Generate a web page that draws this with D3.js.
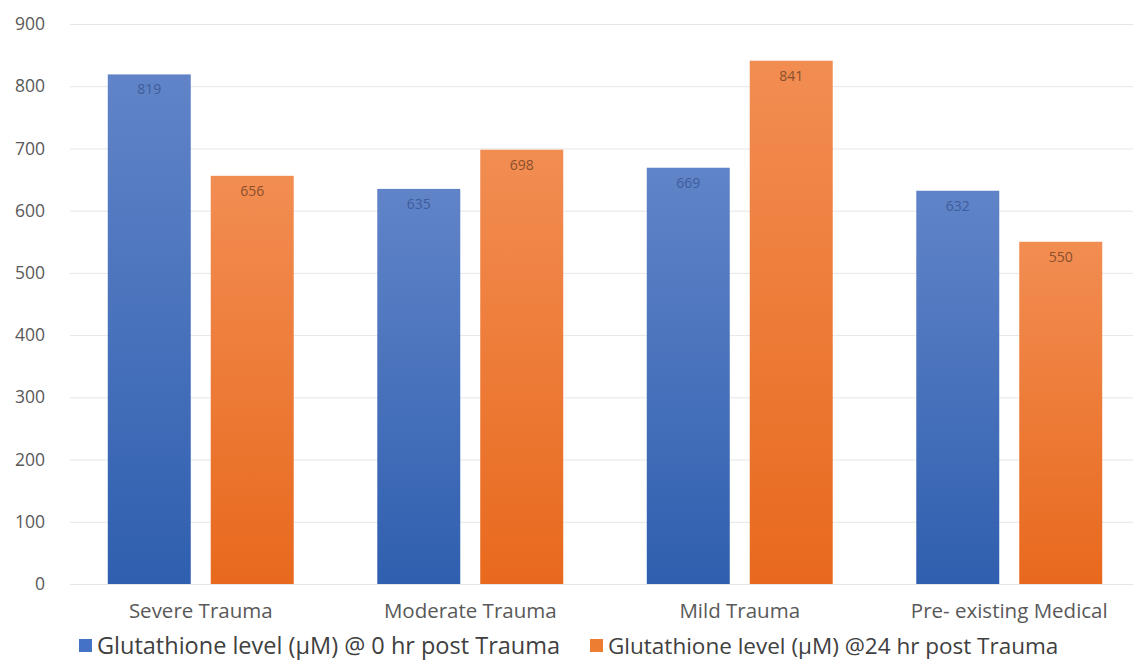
<!DOCTYPE html>
<html>
<head>
<meta charset="utf-8">
<script src="https://cdn.jsdelivr.net/npm/d3@7"></script>
<style>
  body { margin: 0; background: #fff; }
  svg { font-family: "Open Sans", "Noto Sans", sans-serif; }
</style>
</head>
<body>
<svg id="chart" width="1133" height="666"></svg>
<script>
// chart data
const categories = ["Severe Trauma", "Moderate Trauma", "Mild Trauma", "Pre- existing Medical"];
const seriesNames = ["Glutathione level (\u00b5M) @ 0 hr post Trauma", "Glutathione level (\u00b5M) @24 hr post Trauma"];
const hr0 = [819, 635, 669, 632];
const hr24 = [656, 698, 841, 550];
const yTicks = [0, 100, 200, 300, 400, 500, 600, 700, 800, 900];

const svg = d3.select("#chart");
const width = +svg.attr("width");

const x = d3.scaleBand()
    .domain(categories)
    .range([66, 1144])
    .paddingInner(0.31)
    .paddingOuter(0.155);

const x1 = d3.scaleBand()
    .domain([0, 1])
    .range([0, x.bandwidth()])
    .paddingInner(0.194);

const y = d3.scaleLinear()
    .domain([0, 900])
    .range([584, 24]);

// Gradients
const defs = svg.append("defs");
const grads = [
    { id: "gBlue", top: "#6184c8", bottom: "#2f5faf" },
    { id: "gOrange", top: "#f28d52", bottom: "#e8691d" }
];
grads.forEach(g => {
    const lg = defs.append("linearGradient")
        .attr("id", g.id)
        .attr("x1", 0).attr("y1", 0).attr("x2", 0).attr("y2", 1);
    lg.append("stop").attr("offset", "0%").attr("stop-color", g.top);
    lg.append("stop").attr("offset", "100%").attr("stop-color", g.bottom);
});

// gridlines
svg.append("g")
    .selectAll("line")
    .data(yTicks)
    .enter().append("line")
    .attr("x1", 70)
    .attr("x2", width)
    .attr("y1", d => y(d) + 0.5)
    .attr("y2", d => y(d) + 0.5)
    .attr("stroke", "#e6e6e6")
    .attr("stroke-width", 1);

// y-axis tick labels
svg.append("g")
    .selectAll("text")
    .data(yTicks)
    .enter().append("text")
    .attr("x", 45)
    .attr("y", d => y(d))
    .attr("dy", "0.35em")
    .attr("text-anchor", "end")
    .attr("font-size", "17.5px")
    .attr("fill", "#595959")
    .text(d => d);

const rows = [];
categories.forEach((c, i) => {
    rows.push({ cat: c, s: 0, v: hr0[i] });
    rows.push({ cat: c, s: 1, v: hr24[i] });
});

const barFill = ["url(#gBlue)", "url(#gOrange)"];
const labelFill = ["#3e5d9c", "#8a4f2c"];

svg.append("g")
    .selectAll("rect")
    .data(rows)
    .enter().append("rect")
    .attr("x", d => x(d.cat) + x1(d.s))
    .attr("y", d => y(d.v))
    .attr("width", x1.bandwidth())
    .attr("height", d => y(0) - y(d.v))
    .attr("fill", d => barFill[d.s]);

svg.append("g")
    .selectAll("text")
    .data(rows)
    .enter().append("text")
    .attr("x", d => x(d.cat) + x1(d.s) + x1.bandwidth() / 2)
    .attr("y", d => y(d.v) + 20)
    .attr("text-anchor", "middle")
    .attr("font-size", "14px")
    .attr("fill", d => labelFill[d.s])
    .text(d => d.v);

// category labels
svg.append("g")
    .selectAll("text")
    .data(categories)
    .enter().append("text")
    .attr("x", d => x(d) + x.bandwidth() / 2)
    .attr("y", 611)
    .attr("dy", "0.35em")
    .attr("text-anchor", "middle")
    .attr("font-size", "20.5px")
    .attr("fill", "#595959")
    .text(d => d);

// legend
const legendColors = ["#4472c4", "#ed7d31"];
const legendX = [79, 590];
const legend = svg.append("g")
    .selectAll("g")
    .data(seriesNames)
    .enter().append("g")
    .attr("transform", (d, i) => `translate(${legendX[i]},646)`);

legend.append("rect")
    .attr("x", 0)
    .attr("y", -7)
    .attr("width", 13)
    .attr("height", 13)
    .attr("fill", (d, i) => legendColors[i]);

legend.append("text")
    .attr("x", 18)
    .attr("y", 0)
    .attr("dy", "0.36em")
    .attr("font-size", (d, i) => i === 0 ? "23.5px" : "22.5px")
    .attr("fill", "#404040")
    .text(d => d);
</script>
</body>
</html>
